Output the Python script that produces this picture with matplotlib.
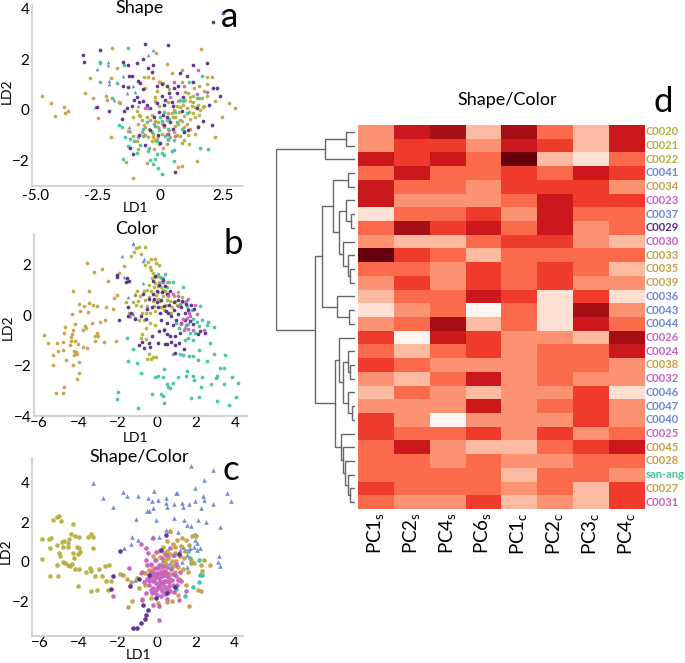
import matplotlib
matplotlib.use('Agg')
import matplotlib.pyplot as plt
from matplotlib.colors import ListedColormap
import numpy as np

plt.rcParams['font.family'] = ['Lato', 'DejaVu Sans']
plt.rcParams['mathtext.fontset'] = 'custom'
plt.rcParams['mathtext.rm'] = 'Lato'
plt.rcParams['mathtext.default'] = 'regular'

W, H = 685, 663

OLIVE = '#b4b040'
GOLD = '#c8a045'
PURPLE = '#5a2d8c'
TEAL = '#40c4a0'
BLUE = '#6f87d8'
MAGENTA = '#c860c0'

# panel a (LD1, LD2)
a_gold = [(-4.75,.53),(-4.39,.25),(-3.84,.09),(-4.21,-.26),(-3.8,-.13),(-3.71,-.04),(-3.0,.64),(-2.8,1.24),(-2.68,.45),
          (-2.48,-.34),(-1.95,2.45),(-1.97,1.24),(-1.75,1.63),(-2.17,.55),(-2.15,.38),(-1.97,-1.08),(-1.08,-2.71),(-1.37,-2.08),
          (-.19,2.26),(.25,1.8),(1.61,2.41),(1.45,-2.03),(.88,-2.22),(.72,-2.25),(2.19,-1.08),(2.45,-.28),(2.76,.25),(3.0,.05),
          (-1.65,.3),(-1.6,.25),(-.5,1.3),(-.3,1.25),(-.05,1.1),(0.0,1.08),(.45,1.45),(.85,1.55),(1.85,1.0),(2.05,1.3),
          (-.6,.85),(-.15,.75),(.7,.35),(-.9,-.55),(-.75,-.9),(-.6,-1.0),(-.4,-.4),(-.3,-1.1),(-.1,-.7),(.25,-1.35),(.5,-.3),
          (-1.1,-1.05),(-.55,-2.1),(-.15,-1.15),(.1,-1.5),(1.2,-.75),(1.75,.15),(2.2,.35),(-1.3,-.85),(-.95,-1.25),
          (-.8,-.25),(-.65,-.6),(-.45,-.75),(-.2,-.45),(.05,-.55),(.3,-.15),(.6,-.65),(.8,-.4),(1.0,.7),(1.55,.95),(-.2,.35),(.15,.2),
          (-.9,-1.55),(-.25,-1.55),(.4,-1.1),(1.4,-.95),(-1.1,-.3),(-.35,-.2)]
a_olive = [(1.1,.65),(1.2,.5),(1.3,.55),(1.45,.45),(1.0,.4),(.9,.2),(.8,.1),(.75,-.1),(.95,-.25),(1.15,-.1),(1.3,-.15),(1.4,-.3),
           (1.55,-.2),(1.7,.1),(1.85,.55),(1.75,.75),(1.65,.45),(1.5,.2),(1.25,.15),(1.05,.05),(.65,.15),(.55,.0),(.45,-.15),(.25,-.4),
           (.15,-.7),(.35,-.8),(.55,-.9),(.95,-.7),(1.05,-.55),(1.1,-1.0),(1.15,-1.35),(.95,-1.2),(.85,-1.3),(.65,-1.0),(-.2,-1.2),
           (-.05,-1.35),(-.35,-1.25),(-.6,-.7),(-.75,-.4),(-.85,-.2),(-.95,-.05),(-.55,-.3),(-.2,.5),(-.05,.15),(.1,1.05),(.35,.8),
           (.85,1.1),(1.35,.85),(1.85,1.3),(-.1,-.5),(.05,-.95),(-.65,1.3),(.3,.3),(.7,-.55),(1.5,-.65),
           (1.2,.35),(1.4,.1),(1.6,.0),(1.2,-.35),(.85,-.45),(.6,-.3),(-.3,-.95),(-.5,-1.1),(-.1,-1.05),(.3,-1.2),(.8,-1.05),(1.3,.3)]
a_purple = [(2.12,3.45),(2.5,3.83),(-3.1,2.15),(-3.05,1.9),(-2.4,2.35),(-.6,2.6),(.3,2.55),(-1.5,1.9),(-1.3,1.75),(-.7,2.0),
            (-.3,1.75),(-.35,1.5),(-.5,1.65),(-1.25,1.35),(-1.15,1.35),(-.95,1.85),(-.9,1.15),(-.8,1.05),(-1.5,.95),(-1.3,.9),
            (-2.55,.1),(-2.05,-.05),(-1.45,-.05),(-1.35,.05),(-1.05,.4),(-.95,.5),(-.85,.3),(-.7,.35),(-.4,.05),(-.15,.25),(.05,.55),
            (.2,.4),(.35,.65),(.5,.15),(.1,-.2),(.25,-.3),(-.05,-.1),(.55,.85),(.8,1.45),(1.05,1.35),(1.3,1.1),(1.3,1.75),(1.85,1.85),
            (2.4,.55),(2.25,.85),(2.1,.85),(1.95,.2),(1.45,.05),(1.5,-.7),(.95,-.9),(.5,-.75),(.3,-.95),(-.1,-1.0),(-.4,-.8),(-.85,-1.0),
            (-1.2,-1.5),(-1.1,-1.75),(-.6,-1.4),(.6,-2.45),(.15,-.6),(.65,.65),(.9,.5),(-1.55,-.35),(.05,1.0),(.25,.95),(-.15,.95),(-.55,.2),
            (.45,.3),(.7,.95),(.15,.2),(-.25,-.3),(.4,-.5),(1.1,-.8),(1.7,-.45),(2.05,-.6),(.0,-1.3),(-.7,.8),(-1.15,.15),(.85,-.05)]
a_teal = [(-2.4,1.1),(-2.4,1.85),(-2.42,1.9),(-1.3,2.45),(-1.45,1.75),(-1.75,1.05),(-1.95,.45),(-1.65,-.6),(-1.55,-.7),(-1.4,-1.1),
          (-1.3,-1.45),(-1.5,-1.95),(-1.2,-1.15),(-1.05,-1.25),(-.9,-1.1),(-.8,-1.4),(-.7,-.75),(-.55,-.5),(-.45,-1.5),(-.4,-2.0),
          (-.3,-2.15),(-.1,-2.3),(.05,-2.55),(.15,-1.8),(.05,-1.7),(-.15,-1.75),(-.2,-1.95),(.45,-1.65),(.55,-1.6),(.55,-2.05),
          (.3,-1.15),(.2,-1.05),(-.05,-.8),(-.25,-.55),(0.0,-.3),(.15,-.1),(.35,-.35),(.6,-.1),(.8,.4),(.9,.35),(1.15,1.1),(1.65,1.35),
          (1.55,.45),(1.05,-.15),(.95,-.85),(1.6,-1.5),(1.9,-1.55),(.55,-1.2),(-.5,-1.65),(-.35,-.9),
          (-.2,-.65),(.05,-.45),(.3,-.75),(-.15,-1.25),(-.7,-1.05),(-.95,-1.7),(.65,-.5),(.85,-.75)]
a_blue = [(-2.6,.1),(-2.55,1.6),(-2.1,1.9),(-2.1,1.75),(-2.05,1.15),(-2.05,1.0),(-1.85,.4),(-.3,2.35),(-.5,2.15),(-1.5,1.35),
          (-1.35,.65),(-1.25,-.7),(-1.1,.95),(-1.0,.7),(-.9,.15),(-.65,-.95),(-1.2,-.85)]
a_magenta = [(.55,1.1),(.95,.95),(1.5,1.55),(1.85,.7),(.25,-.95),(.4,.5),(-.6,.05),(-.5,.08),(.6,-1.05),(1.45,.6)]

# panel b
b_gold = [(-5.74,-.8),(-5.54,-1.1),(-5.11,-1.1),(-5.28,-1.57),(-5.31,-1.96),(-5.03,-1.43),(-4.8,-1.4),(-4.77,-1.05),(-4.74,-.7),
          (-4.67,-.47),(-4.63,-1.78),(-5.14,-3.09),(-4.8,-3.09),(-4.75,-2.85),(-4.05,-2.54),(-3.99,-2.28),(-4.29,-1.96),(-3.95,-1.87),
          (-4.26,.95),(-3.56,2.08),(-3.19,1.71),(-2.81,1.82),(-2.5,1.34),(-3.44,.95),(-3.99,.42),(-3.71,.37),(-3.44,.49),(-3.24,.39),
          (-3.03,.37),(-2.59,.3),(-2.25,.24),(-2.18,.66),(-2.04,.79),(-1.94,1.68),(-3.92,.16),(-3.49,.13),(-4.31,.03),(-4.17,-.36),
          (-3.68,-.42),(-3.61,-.53),(-3.32,-.33),(-2.9,-.29),(-2.64,-.2),(-3.78,-.59),(-4.26,-.59),(-4.31,-.75),(-4.36,-.86),(-4.4,-1.03),
          (-4.43,-1.18),(-4.17,-1.03),(-4.0,-1.16),(-4.22,-1.42),(-4.12,-1.45),(-4.22,-1.58),(-4.09,-1.55),(-3.75,-1.25),(-3.58,-1.32),
          (-3.07,-.7),(-3.15,-.82),(-2.98,-.82),(-3.15,-1.01),(-2.69,-1.07),(-2.08,-1.01),(-1.65,1.95),(-.05,-1.65)]
b_teal = [(-1.53,-.92),(-1.19,-1.36),(-1.48,-1.84),(-.99,-1.91),(-.82,-2.29),(-1.99,-3.03),(-2.04,-3.33),(-.94,-3.68),(-.26,-3.12),
          (.22,-3.12),(.34,-3.22),(.39,-3.49),(-.09,-2.46),(.09,-2.41),(.39,-2.13),(.34,-2.46),(.51,-2.72),(.56,-2.86),(.68,-2.89),
          (.82,-2.7),(1.11,-2.46),(1.5,-2.41),(1.57,-2.21),(1.87,-2.43),(1.91,-2.59),(2.27,-2.86),(2.3,-2.47),(1.75,-3.29),(2.16,-3.25),
          (2.56,-1.82),(2.76,-2.74),(3.03,-2.5),(3.1,-2.41),(3.1,-3.39),(3.24,-2.11),(3.44,-2.11),(3.44,-2.72),(3.71,-3.55),(3.83,-2.47),
          (4.04,-3.26),(4.17,-2.7),(2.95,-1.55),(3.49,-1.6),(2.13,-1.78),(1.19,-1.55),(1.36,-1.58),(.85,-1.55),(1.67,-1.64),(1.87,-1.64),
          (2.18,-1.38),(2.73,-1.12),(2.9,-.49),(2.64,-.29),(2.59,-.39),(2.21,.37),(2.33,-.2),(2.04,-.26),(1.96,-.72),(1.84,-.99),(1.62,-.92),
          (1.45,-.99),(1.7,-.72),(.43,1.64),(.34,1.45),(.09,1.64),(.85,1.32),(1.36,1.12),(1.62,.22),(1.79,.2),(.97,-.33),(1.45,-.53),
          (.65,1.3),(.5,1.1),(.25,1.3),(1.2,.45),(1.55,.35),(1.85,-.15),(2.15,-.45),(1.15,-.5),(1.6,-.35)]
b_olive = [(-.6,2.7),(-.9,2.7),(-1.05,2.65),(-1.15,2.5),(-.8,2.42),(-1.3,2.35),(-.3,2.2),(-.1,2.2),(-.45,2.1),(-.05,2.05),(.1,2.0),
           (-.6,2.0),(-.35,1.9),(-.3,1.8),(-.2,1.65),(-.1,1.5),(0.0,1.55),(.15,1.5),(.1,1.3),(-.1,1.25),(-.15,1.1),(.2,1.1),(.3,1.0),
           (.05,.9),(-.3,.95),(-.5,1.0),(-.65,.95),(-1.0,.95),(-1.1,.8),(-.95,.55),(-1.05,.4),(-.8,.35),(-.6,.6),(-.4,.7),(-.2,.55),(.05,.65),
           (.3,.75),(.5,.6),(.7,.55),(.9,.75),(1.1,.9),(1.3,.7),(1.35,.5),(1.05,.4),(.8,.3),(.45,.4),(.2,.3),(-.1,.15),(-.35,.1),(-.55,.1),
           (-.75,.1),(-1.1,-.1),(-.9,-.2),(-.65,-.2),(-.35,-.3),(-.1,-.4),(-.55,-.5),(-.75,-.75),(-.8,-.9),(-.55,-.95),(-.4,-1.55),(-.3,-1.75),
           (-.5,-1.75),(-.2,-1.65),(.35,-.55),(.55,1.3),(.75,.1),(-1.55,.5),(-1.4,.1),(-1.2,.5),
           (-.25,1.45),(.05,1.15),(.4,.95),(.15,.55),(-.15,.35),(-.5,.35),(-.85,.75),(.6,.85),(.95,.55),(.35,.2),(-.05,.8),(-.4,1.2)]
b_purple = [(-2.05,1.6),(-2.05,1.5),(-1.5,1.45),(-1.55,1.3),(-1.4,1.35),(-1.45,.3),(-1.3,.1),(-1.45,-.05),(-1.9,-.18),(-1.1,-.15),(-.8,-.05),
            (-.55,-.15),(-.5,.25),(-.25,.3),(0,.5),(.2,.6),(.35,.35),(.15,.1),(-.4,.65),(-.7,.85),(-.2,.85),(0,.95),(-.1,1.55),(-.2,1.35),(.1,1.2),
            (.4,1.15),(.7,.95),(.5,.85),(.9,.5),(1.1,.6),(1.25,.3),(1.5,.45),(1.75,.4),(1.9,.25),(1.45,.1),(1.1,.05),(.75,-.05),(.6,.1),(1.0,-.2),
            (1.25,-.3),(1.7,-.25),(1.85,-.35),(2.2,-.65),(2.45,-.7),(.55,-.3),(.35,-.6),(.1,-.65),(.55,-.75),(.7,-.85),(.95,-.85),(1.2,-.7),(.75,-1.05),
            (.55,-1.15),(.95,-1.2),(1.15,-1.1),(.4,-1.15),(-.25,-.85),(-.4,-1.1),(-.75,-1.05),(-.9,-1.2),(-.65,-1.3),(-.35,-1.25),(.05,-1.1),(1.4,-1.35),(.95,-1.5),(2.1,-.75),
            (.25,.9),(.65,.4),(.9,.2),(1.3,.55),(.45,.15),(.05,.3),(-.15,.65),(.3,1.4),(.85,-.4),(1.45,-.2),(1.6,.2),(.2,-.2)]
b_blue = [(-1.2,2.8),(-1.2,2.85),(-1.75,2.35),(-.65,2.2),(-.7,2.15),(-1.65,1.5),(-1.5,1.35),(-1.45,.7),(-1.2,.05),(-1.35,-.05),(-1.1,.85),(-.7,1.25),
          (.3,1.3),(.2,1.5)]
b_magenta = [(.85,.85),(1.1,.75),(1.5,.55),(1.6,.65),(1.65,.1),(1.55,-.1),(1.35,-.15),(1.25,-.35),(1.95,.4),(2.05,.05),(1.7,-.05),(1.5,-.4),(1.85,-.6),
             (2.4,-.6),(.6,.75),(1.1,.35),(1.4,-.6),(1.6,-.55)]

# panel c
c_olive = [(-5.93,1.15),(-5.88,.14),(-5.52,1.14),(-5.44,1.19),(-5.51,.71),(-5.49,-.73),(-5.09,-.73),(-5.35,2.12),(-5.15,2.25),(-5.01,2.34),
           (-4.92,2.07),(-5.15,.85),(-4.87,1.02),(-4.75,1.05),(-4.51,1.14),(-4.41,1.39),(-4.2,1.32),(-4.0,1.24),(-4.31,1.92),(-4.55,.93),(-4.8,.76),
           (-4.55,.73),(-5.03,.42),(-4.97,.31),(-5.11,-.17),(-4.85,-.03),(-4.72,-.05),(-4.58,-.17),(-4.46,-.22),(-4.34,-.12),(-4.25,.17),(-4.32,.42),
           (-4.12,.73),(-4.0,.68),(-3.95,.51),(-4.07,.39),(-4.19,-.37),(-3.98,-.39),(-4.03,-1.24),(-3.64,-.54),(-3.4,-.47),(-3.46,-.34),(-3.55,1.24),
           (-3.38,1.39),(-3.26,1.27),(-3.26,.68),(-2.97,-.37),(-3.17,-.71),(-3.4,-1.49),(-3.09,-1.44),(-2.49,-1.44),(-2.61,-.97),(-2.35,-.97),(-2.83,-.71),
           (-2.66,-.2),(-2.45,-.17)]
c_gold = [(-1.9,-.6),(-1.75,-.7),(-1.55,-.9),(-1.35,-1.05),(-1.5,-2.3),(-1.25,-2.0),(-.75,-1.9),(-1.0,-.85),(-.8,-.55),(-.6,-.55),(-.4,-.4),(-.3,-.15),
          (-.2,.3),(-.05,.1),(.1,.55),(.3,.75),(.55,1.05),(.7,1.55),(.85,.9),(.95,.75),(1.05,1.1),(1.3,1.2),(1.5,1.1),(1.8,1.3),(2.0,1.3),(1.65,.85),
          (1.45,.55),(1.2,.3),(1.0,.05),(.7,.4),(.5,-.1),(.25,-.35),(.05,-.55),(-.1,-.75),(.4,-.7),(.7,-.6),(.95,-.5),(1.35,-.35),(1.6,-.5),(1.75,.1),
          (2.45,.1),(2.75,-.15),(2.3,-.15),(2.35,-.45),(2.1,-1.45),(2.3,-1.5),(1.65,-2.25),(1.1,-1.7),(.8,-2.0),(.55,-2.05),(.05,-2.1),(-.3,-1.85),(-.6,-1.2),
          (-.9,-1.35),(1.9,-.05),(.15,.25),(.6,.2),(.4,.1),(1.15,-.9),(1.5,-1.2),
          (.8,.05),(.55,.55),(.95,.45),(1.25,.8),(1.1,-.25),(.25,-.1),(-.2,-.35),(.85,-.2),(1.4,.2),(.35,.45),(.7,-.9),(.2,-1.05)]
c_purple = [(-1.9,.55),(-2.25,-.75),(-2.35,-1.4),(-1.4,-1.25),(-.9,-.9),(-.7,-2.2),(-.55,-2.7),(-.45,-2.45),(-.6,-2.9),(-.8,-3.1),(-1.2,-3.35),(-1.0,-3.35),(-.05,-1.85),
            (.55,-1.6),(.95,-1.3),(1.15,.4),(.2,.6),(.5,1.35),(-.4,-.7)]
c_magenta = [(-2.25,-1.75),(-.2,1.2),(-.55,.7),(-.45,.45),(-.55,.1),(-.8,.9),(-.3,-.1),(-.1,-.3),(-.3,-.5),(-.15,-.55),(-.05,-.8),(.1,-.65),(.25,-.75),(.4,-.45),
             (.6,-.8),(.8,-.95),(1.0,-.75),(.5,-1.0),(.35,-1.0),(.15,-1.0),(-.05,-1.1),(-.2,-1.0),(-.35,-.85),(-.5,-.9),(-.65,-1.05),(-.4,-1.2),(-.2,-1.35),
             (0,-1.4),(.2,-1.35),(.4,-1.3),(.65,-1.25),(.85,-1.2),(1.05,-1.2),(.7,-1.5),(.45,-1.65),(.2,-1.75),(0,-1.7),(-.25,-1.6),(-.55,-1.6),(-.75,-1.95),(-.2,-2.2),
             (.1,-2.25),(.1,-2.95),(.55,-1.9),(1.15,-1.95),(.3,-.2),(.55,-.25),(.75,-.35),(1.0,-.1),(1.2,-.5),(.9,.35),(.7,.7),(.5,.35),(.25,.2),(.1,-.15),(-.05,.5),
             (.05,-.3),(-.15,-.95),(.1,-.85),(.3,-.6),(-.75,-.5),(-.5,-.15),(-.1,.1),(1.25,-1.0),(.9,-1.55),(1.5,-1.5),(-1.45,-.3),(.15,-1.15),(.55,-.55),
             (-.25,-.75),(.0,-.55),(.2,-.5),(.45,-.7),(.65,-1.05),(.3,-1.15),(.05,-1.25),(-.1,-1.55),(.25,-1.5),(.55,-1.4),(-.4,-1.0),(.85,-.6),(1.1,-.95),(-.3,-1.45)]
c_blue = [(-3.29,4.02),(-2.74,3.22),(-2.26,2.76),(-1.75,3.53),(-1.51,3.34),(-.98,3.34),(-1.06,2.17),(-.43,3.25),(-.15,3.59),(-.24,3.08),(.05,3.14),(.46,3.22),
          (.46,2.97),(.51,2.8),(-.17,2.75),(-.39,2.59),(-.51,2.59),(-.05,2.12),(.99,3.47),(1.06,3.51),(.89,2.92),(.91,2.2),(1.29,2.97),(1.37,2.8),(1.42,2.12),(1.66,2.93),
          (1.75,4.86),(1.96,3.76),(1.97,3.08),(2.44,4.15),(2.88,4.66),(2.4,3.34),(2.44,3.14),(2.88,2.92),(2.28,2.75),(2.14,2.12),(2.54,2.03),(3.28,1.78),(3.6,3.47),(3.83,3.08),
          (3.21,.31),(3.17,0),(3.26,-.2),(-1.25,1.24),(-1.32,.88),(-1.68,.68),(-.94,1.1),(-.26,1.24),(.14,1.27),(.46,1.61),(.69,1.56),(1.11,1.49),(1.54,1.86),(1.77,1.81),
          (1.2,.6),(1.46,.6),(1.55,.35),(1.29,0),(1.72,.68),(2.06,.6),(2.23,.68),(.69,-.08),(1.03,-.17),(.6,.34),(.34,.08),(1.2,.34),(.86,.34),(.43,.51),(1.54,-.25),(1.97,1.1),
          (2.06,.93),(-1.11,-.93),(1.9,.75),(1.35,.75)]
c_teal = [(1.7,.2),(1.75,-.05),(2.2,.1),(2.25,-.7),(2.35,-.7),(2.2,-1.05),(1.85,-1.3),(1.45,-1.75),(1.0,-1.4),(.9,-.6),(.45,-1.55),(1.6,.55),(1.95,1.35),(.75,-.3)]

# heatmap, class of the red scale per cell
row_labels = ['C0020','C0021','C0022','C0041','C0034','C0023','C0037','C0029','C0030','C0033','C0035','C0039','C0036','C0043',
              'C0044','C0026','C0024','C0038','C0032','C0046','C0047','C0040','C0025','C0045','C0028','san-ang','C0027','C0031']
row_colors = [OLIVE,OLIVE,OLIVE,BLUE,GOLD,MAGENTA,BLUE,PURPLE,MAGENTA,GOLD,GOLD,GOLD,BLUE,BLUE,
              BLUE,MAGENTA,MAGENTA,GOLD,MAGENTA,BLUE,BLUE,BLUE,MAGENTA,GOLD,GOLD,TEAL,GOLD,MAGENTA]
col_labels = ['PC1$_s$','PC2$_s$','PC4$_s$','PC6$_s$','PC1$_c$','PC2$_c$','PC3$_c$','PC4$_c$']
heat = [[3,6,7,2,7,4,2,6],
        [3,5,5,3,6,5,2,6],
        [6,5,6,4,8,2,1,4],
        [4,6,4,4,5,4,6,5],
        [6,4,4,3,5,5,5,3],
        [6,3,3,3,4,6,5,5],
        [1,4,4,5,3,6,4,4],
        [4,7,5,6,4,6,3,4],
        [3,2,2,4,5,5,3,2],
        [8,5,4,2,4,4,4,4],
        [4,4,3,5,4,5,4,2],
        [3,5,3,5,4,5,3,3],
        [2,4,4,6,5,1,5,1],
        [1,3,4,0,4,1,7,3],
        [3,4,7,2,4,1,6,4],
        [5,0,6,5,3,3,2,7],
        [4,2,4,5,3,4,4,6],
        [5,4,3,3,3,4,4,3],
        [3,2,4,6,3,4,3,3],
        [2,4,3,2,3,3,5,1],
        [3,3,3,6,3,4,5,3],
        [5,3,0,3,3,3,5,3],
        [5,4,4,5,3,5,3,4],
        [4,6,3,2,2,4,5,6],
        [4,4,3,4,3,3,4,4],
        [4,4,4,4,2,4,4,3],
        [5,4,4,4,3,4,2,5],
        [4,3,3,5,2,3,2,5]]
reds = ['#fff5f0','#fee0d2','#fcbba1','#fc9272','#fb6a4a','#ef3b2c','#cb181d','#a50f15','#67000d']

# dendrogram merges: child, child, height. children above 27 are earlier merges
merges = [(0,1,9),(28,2,30),(3,4,7.5),(6,7,4),(5,31,9),(10,11,5.5),(9,33,7.5),(8,34,12.5),(32,35,16.5),(30,36,22),
          (13,14,6.5),(12,38,18),(37,39,33),(17,18,5.5),(16,41,7.5),(20,21,3.5),(19,43,7.5),(42,44,12.5),(15,45,16.5),
          (26,27,5.5),(25,47,7.5),(24,48,10),(23,49,12.5),(22,50,14.5),(46,51,20),(40,52,40),(29,53,79)]


def rect(left, top, right, bottom):
    return [left/W, 1-bottom/H, (right-left)/W, (bottom-top)/H]


def scatter_panel(box, xlim, ylim, xticks, yticks, series, size):
    ax = fig.add_axes(rect(*box))
    for pts, col, mk in series:
        pts = np.array(pts)
        ax.scatter(pts[:,0], pts[:,1], s=size, c=col, marker=mk, linewidths=0, alpha=0.95)
    ax.set_xlim(xlim)
    ax.set_ylim(ylim)
    ax.set_xticks(xticks)
    ax.set_yticks(yticks)
    ax.tick_params(length=0, labelsize=11, pad=2)
    for s in ['top','right']:
        ax.spines[s].set_visible(False)
    for s in ['left','bottom']:
        ax.spines[s].set_color('#d0d0d0')
        ax.spines[s].set_linewidth(1.3)
    return ax


def label(x, y, s, size, **kw):
    fig.text(x/W, 1-y/H, s, fontsize=size, ha=kw.pop('ha','center'), va='center', **kw)


fig = plt.figure(figsize=(6.85, 6.63), dpi=100)

ax_a = scatter_panel((32.3,5,243,186), (-5.12,3.31), (-3.02,4.14), [-5,-2.5,0,2.5], [-2,0,2,4],
                     [(a_blue,BLUE,'^'),(a_gold,GOLD,'o'),(a_olive,OLIVE,'o'),(a_teal,TEAL,'o'),(a_purple,PURPLE,'o'),(a_magenta,MAGENTA,'o')], 7)
ax_a.set_xticklabels(['-5.0','-2.5','0','2.5'])
ax_b = scatter_panel((34.3,234,247,416), (-6.25,4.61), (-4.0,3.21), [-6,-4,-2,0,2,4], [-4,-2,0,2],
                     [(b_gold,GOLD,'o'),(b_teal,TEAL,'o'),(b_olive,OLIVE,'o'),(b_blue,BLUE,'^'),(b_purple,PURPLE,'o'),(b_magenta,MAGENTA,'o')], 7)
ax_b.tick_params(axis='x', pad=0)
ax_c = scatter_panel((32,458,243,635.7), (-6.42,4.44), (-3.76,5.27), [-6,-4,-2,0,2,4], [-2,0,2,4],
                     [(c_olive,OLIVE,'o'),(c_teal,TEAL,'o'),(c_blue,BLUE,'^'),(c_gold,GOLD,'o'),(c_magenta,MAGENTA,'o'),(c_purple,PURPLE,'o')], 11)
ax_c.tick_params(axis='x', pad=0)

label(140,8,'Shape',13)
label(137,229,'Color',13)
label(139,457,'Shape/Color',13)
label(136,208,'LD1',10)
label(136,438,'LD1',10)
label(139,655,'LD1',10)
label(7,91,'LD2',10,rotation=90)
label(8,327,'LD2',10,rotation=90)
label(6,551,'LD2',10,rotation=90)
label(230,17,'a',25)
label(233,244,'b',25)
label(231,470,'c',25)
label(663,102,'d',25)
label(507,100,'Shape/Color',13)

# heatmap
ax_h = fig.add_axes(rect(357.7,125,644,509))
ax_h.imshow(np.array(heat), cmap=ListedColormap(reds), vmin=-.5, vmax=8.5, aspect='auto', interpolation='nearest')
ax_h.set_yticks([])
ax_h.set_xticks(range(len(col_labels)))
ax_h.set_xticklabels(col_labels, rotation=90, fontsize=13.5)
ax_h.tick_params(length=0, pad=2)
for s in ax_h.spines.values():
    s.set_visible(False)
for i, (t, c) in enumerate(zip(row_labels, row_colors)):
    ax_h.text(7.54, i, t, color=c, fontsize=8, fontweight='bold', va='center', ha='left', clip_on=False)

# dendrogram
ax_d = fig.add_axes(rect(276,125,355,509))
ypos = {i: float(i) for i in range(len(row_labels))}
hgt = {i: 0.0 for i in range(len(row_labels))}
for k, (p, q, h) in enumerate(merges):
    ax_d.plot([hgt[p],h,h,hgt[q]], [ypos[p],ypos[p],ypos[q],ypos[q]], color='#666666', lw=1.0, solid_joinstyle='miter')
    ypos[len(row_labels)+k] = (ypos[p]+ypos[q])/2
    hgt[len(row_labels)+k] = h
ax_d.set_xlim(79.5,0)
ax_d.set_ylim(27.5,-.5)
ax_d.axis('off')

fig.savefig('out.png', dpi=100)
